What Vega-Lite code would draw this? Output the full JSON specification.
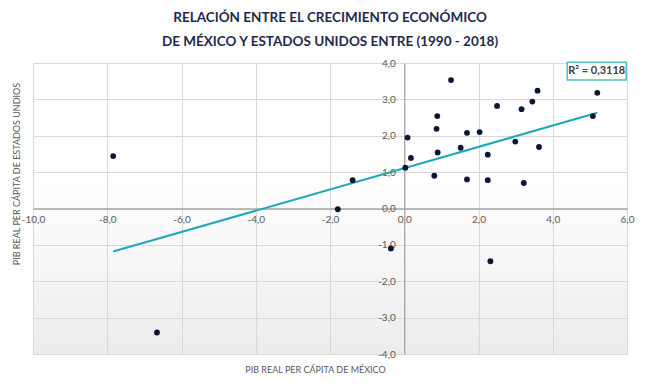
{
  "$schema": "https://vega.github.io/schema/vega-lite/v6.json",
  "width": 594,
  "height": 291,
  "autosize": "none",
  "padding": {"left": 33, "top": 63, "right": 28, "bottom": 37},
  "background": "white",
  "title": {
    "text": ["RELACIÓN ENTRE EL CRECIMIENTO ECONÓMICO", "DE MÉXICO Y ESTADOS UNIDOS ENTRE (1990 - 2018)"],
    "anchor": "middle",
    "font": "Lato, sans-serif",
    "fontSize": 13.5,
    "fontWeight": "bold",
    "color": "#1f2b4d",
    "lineHeight": 24,
    "offset": 10
  },
  "view": {
    "stroke": null,
    "fill": {
      "gradient": "linear",
      "x1": 0, "y1": 0, "x2": 0, "y2": 1,
      "stops": [
        {"offset": 0, "color": "#ffffff"},
        {"offset": 0.4, "color": "#ffffff"},
        {"offset": 1, "color": "#ececec"}
      ]
    }
  },
  "datasets": {
    "growth": [
      {"mx": -7.84, "us": 1.44},
      {"mx": -6.66, "us": -3.41},
      {"mx": -1.79, "us": -0.02},
      {"mx": -1.39, "us": 0.78},
      {"mx": -0.36, "us": -1.10},
      {"mx": 2.32, "us": -1.45},
      {"mx": 0.03, "us": 1.12},
      {"mx": 0.09, "us": 1.95},
      {"mx": 0.18, "us": 1.39},
      {"mx": 1.26, "us": 3.53},
      {"mx": 0.81, "us": 0.90},
      {"mx": 0.89, "us": 2.54},
      {"mx": 0.87, "us": 2.19},
      {"mx": 0.90, "us": 1.54},
      {"mx": 1.52, "us": 1.67},
      {"mx": 1.69, "us": 2.08},
      {"mx": 1.69, "us": 0.80},
      {"mx": 2.03, "us": 2.10},
      {"mx": 2.25, "us": 1.48},
      {"mx": 2.25, "us": 0.78},
      {"mx": 2.50, "us": 2.82},
      {"mx": 2.99, "us": 1.84},
      {"mx": 3.16, "us": 2.73},
      {"mx": 3.22, "us": 0.70},
      {"mx": 3.45, "us": 2.94},
      {"mx": 3.59, "us": 3.24},
      {"mx": 3.63, "us": 1.69},
      {"mx": 5.08, "us": 2.54},
      {"mx": 5.20, "us": 3.18}
    ],
    "fit": [
      {"label": "R² = 0,3118"}
    ]
  },
  "layer": [
    {
      "data": {"name": "growth"},
      "transform": [{"regression": "us", "on": "mx"}],
      "mark": {"type": "line", "color": "#1ea8b8", "strokeWidth": 2},
      "encoding": {
        "x": {
          "field": "mx", "type": "quantitative",
          "scale": {"domain": [-10, 6], "nice": false, "zero": false},
          "axis": {"title": "PIB REAL PER CÁPITA DE MÉXICO", "values": [-10, -8, -6, -4, -2, 0, 2, 4, 6], "format": ".1f", "offset": -145.5, "titleX": 282, "titleY": 160.5, "titleBaseline": "middle", "labelPadding": 6}
        },
        "y": {
          "field": "us", "type": "quantitative",
          "scale": {"domain": [-4, 4], "nice": false, "zero": false},
          "axis": {"title": "PIB REAL PER CÁPITA DE ESTADOS UNDIOS", "values": [-4, -3, -2, -1, 0, 1, 2, 3, 4], "format": ".1f", "offset": -371.25, "titleX": -388, "titleY": 110.5, "titleBaseline": "middle", "labelPadding": 9}
        }
      }
    },
    {
      "data": {"name": "growth"},
      "mark": {"type": "circle", "size": 34, "color": "#0b1737", "opacity": 1},
      "encoding": {
        "x": {
          "field": "mx", "type": "quantitative",
          "scale": {"domain": [-10, 6], "nice": false, "zero": false},
          "axis": {"title": "PIB REAL PER CÁPITA DE MÉXICO", "values": [-10, -8, -6, -4, -2, 0, 2, 4, 6], "format": ".1f", "offset": -145.5, "titleX": 282, "titleY": 160.5, "titleBaseline": "middle", "labelPadding": 6}
        },
        "y": {
          "field": "us", "type": "quantitative",
          "scale": {"domain": [-4, 4], "nice": false, "zero": false},
          "axis": {"title": "PIB REAL PER CÁPITA DE ESTADOS UNDIOS", "values": [-4, -3, -2, -1, 0, 1, 2, 3, 4], "format": ".1f", "offset": -371.25, "titleX": -388, "titleY": 110.5, "titleBaseline": "middle", "labelPadding": 9}
        }
      }
    },
    {
      "data": {"name": "fit"},
      "mark": {"type": "rect", "fill": "white", "stroke": "#4fc1c9", "strokeWidth": 1.5},
      "encoding": {
        "x": {
          "datum": 4.39, "type": "quantitative",
          "scale": {"domain": [-10, 6], "nice": false, "zero": false},
          "axis": {"title": "PIB REAL PER CÁPITA DE MÉXICO", "values": [-10, -8, -6, -4, -2, 0, 2, 4, 6], "format": ".1f", "offset": -145.5, "titleX": 282, "titleY": 160.5, "titleBaseline": "middle", "labelPadding": 6}
        },
        "x2": {"datum": 5.98},
        "y": {
          "datum": 4.02, "type": "quantitative",
          "scale": {"domain": [-4, 4], "nice": false, "zero": false},
          "axis": {"title": "PIB REAL PER CÁPITA DE ESTADOS UNDIOS", "values": [-4, -3, -2, -1, 0, 1, 2, 3, 4], "format": ".1f", "offset": -371.25, "titleX": -388, "titleY": 110.5, "titleBaseline": "middle", "labelPadding": 9}
        },
        "y2": {"datum": 3.53}
      }
    },
    {
      "data": {"name": "fit"},
      "mark": {"type": "text", "font": "Lato, sans-serif", "fontSize": 11, "fontWeight": "bold", "color": "#404040"},
      "encoding": {
        "x": {
          "datum": 5.185, "type": "quantitative",
          "scale": {"domain": [-10, 6], "nice": false, "zero": false},
          "axis": {"title": "PIB REAL PER CÁPITA DE MÉXICO", "values": [-10, -8, -6, -4, -2, 0, 2, 4, 6], "format": ".1f", "offset": -145.5, "titleX": 282, "titleY": 160.5, "titleBaseline": "middle", "labelPadding": 6}
        },
        "y": {
          "datum": 3.775, "type": "quantitative",
          "scale": {"domain": [-4, 4], "nice": false, "zero": false},
          "axis": {"title": "PIB REAL PER CÁPITA DE ESTADOS UNDIOS", "values": [-4, -3, -2, -1, 0, 1, 2, 3, 4], "format": ".1f", "offset": -371.25, "titleX": -388, "titleY": 110.5, "titleBaseline": "middle", "labelPadding": 9}
        },
        "text": {"field": "label"}
      }
    }
  ],
  "config": {
    "locale": {
      "number": {"decimal": ",", "thousands": ".", "grouping": [3], "currency": ["", " €"], "minus": "-"}
    },
    "axis": {
      "grid": true,
      "gridColor": "#d9d9d9",
      "gridWidth": 1,
      "ticks": false,
      "domainColor": "#a6a6a6",
      "domainWidth": 1.3,
      "labelFont": "Lato, sans-serif",
      "labelFontSize": 10,
      "labelColor": "#595959",
      "labelFlush": false,
      "labelOverlap": false,
      "labelBound": false,
      "titleFont": "Lato, sans-serif",
      "titleFontSize": 9,
      "titleFontWeight": "normal",
      "titleColor": "#595959"
    }
  }
}
